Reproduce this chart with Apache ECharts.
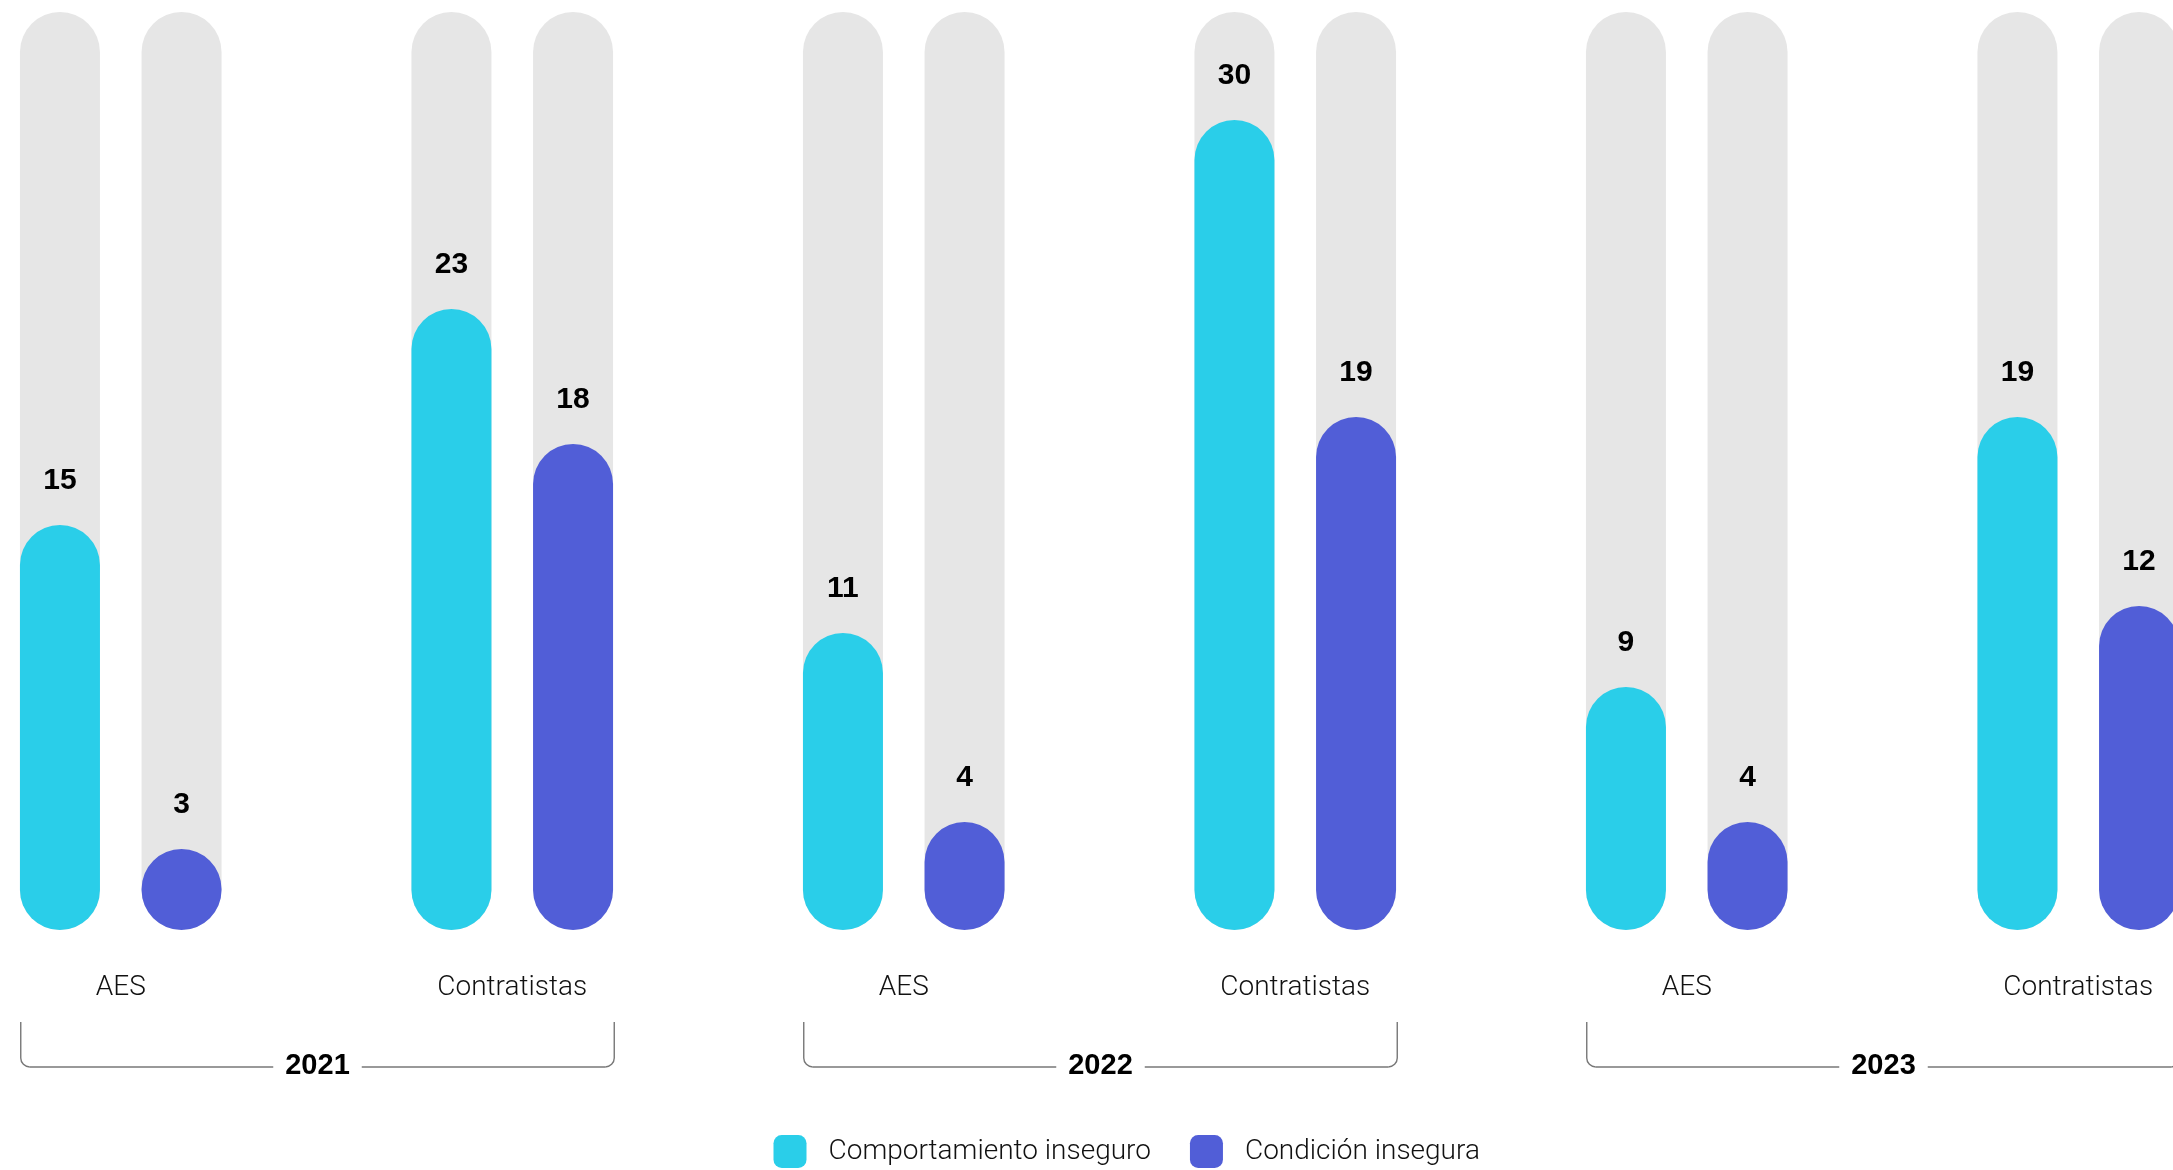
<!DOCTYPE html>
<html>
<head>
<meta charset="utf-8">
<script src="https://cdn.jsdelivr.net/npm/echarts@6/dist/echarts.min.js"></script>
<style>
html,body{margin:0;padding:0;background:#fff;overflow:hidden;width:2173px;height:1170px;}
#wrap{position:relative;width:2173px;height:1170px;overflow:hidden;}
#c{position:absolute;left:-75.5px;top:0;width:2349px;height:1170px;}
</style>
</head>
<body>
<div id="wrap"><div id="c"></div></div>
<script>
// ---- data ----
var years = ['2021', '2022', '2023'];
var groups = ['AES', 'Contratistas'];
var seriesNames = ['Comportamiento inseguro', 'Condición insegura'];
var comportamiento = [15, 23, 11, 30, 9, 19];
var condicion = [3, 18, 4, 19, 4, 12];

// ---- build categories (year + group) ----
var categories = [];
years.forEach(function (y) { groups.forEach(function (g) { categories.push(y + '|' + g); }); });

var CYAN = '#2ACEE9', BLUE = '#515ED7', GRAY = '#E6E6E6';
var LIGHT = 'Roboto, "Liberation Sans", sans-serif';
var BOLD = '"Liberation Sans", Arial, sans-serif';
var SHIFT = 75.5; // chart container starts left of the page edge

var chart = echarts.init(document.getElementById('c'), null, {renderer: 'canvas'});

function barSeries(name, data, color) {
  return {
    name: name,
    type: 'bar',
    data: data,
    barWidth: 80,
    barGap: '52%',
    showBackground: true,
    backgroundStyle: {color: GRAY, borderRadius: 40},
    itemStyle: {color: color, borderRadius: 40},
    label: {
      show: true, position: 'top', distance: 29,
      fontFamily: BOLD, fontWeight: 'bold', fontSize: 30, color: '#000'
    },
    emphasis: {disabled: true}
  };
}

chart.setOption({
  animation: false,
  backgroundColor: '#fff',
  grid: {left: 0, right: 0, top: 12, bottom: 240, containLabel: false},
  legend: {
    left: 773 + SHIFT, top: 1135, padding: 0,
    itemWidth: 33, itemHeight: 33, itemGap: 39,
    icon: 'roundRect',
    textStyle: {fontFamily: LIGHT, fontWeight: 300, fontSize: 28, color: '#111', padding: [0, 0, 0, 17]},
    data: seriesNames
  },
  xAxis: {
    type: 'category',
    data: categories,
    axisLine: {show: false},
    axisTick: {show: false},
    axisLabel: {
      margin: 44,
      fontFamily: LIGHT, fontWeight: 300, fontSize: 28, color: '#111',
      formatter: function (v) { return v.split('|')[1]; }
    }
  },
  yAxis: {type: 'value', min: 0, max: 34, show: false, splitLine: {show: false}},
  series: [
    barSeries(seriesNames[0], comportamiento, CYAN),
    barSeries(seriesNames[1], condicion, BLUE)
  ]
});

// ---- year brackets computed from the axis ----
var graphics = [];
var lineY = 1067, topY = 1022, r = 9;
var ls = {stroke: '#777', lineWidth: 1.4, fill: null};
years.forEach(function (y, i) {
  var a = chart.convertToPixel({xAxisIndex: 0}, i * 2);
  var b = chart.convertToPixel({xAxisIndex: 0}, i * 2 + 1);
  var L = a - 100, R = b + 102;
  graphics.push({type: 'polyline', shape: {points: [[L, topY], [L, lineY - r]]}, style: ls, silent: true});
  graphics.push({type: 'arc', shape: {cx: L + r, cy: lineY - r, r: r, startAngle: Math.PI / 2, endAngle: Math.PI, clockwise: true}, style: ls, silent: true});
  graphics.push({type: 'polyline', shape: {points: [[L + r, lineY], [R - r, lineY]]}, style: ls, silent: true});
  graphics.push({type: 'arc', shape: {cx: R - r, cy: lineY - r, r: r, startAngle: 0, endAngle: Math.PI / 2, clockwise: true}, style: ls, silent: true});
  graphics.push({type: 'polyline', shape: {points: [[R, lineY - r], [R, topY]]}, style: ls, silent: true});
  graphics.push({
    type: 'text', x: (L + R) / 2, y: lineY - 1, silent: true, z: 10,
    style: {
      text: y, fill: '#000', font: 'bold 29px "Liberation Sans", Arial, sans-serif',
      align: 'center', verticalAlign: 'middle',
      backgroundColor: '#fff', padding: [2, 12, 2, 12]
    }
  });
});
chart.setOption({graphic: graphics});
</script>
</body>
</html>
